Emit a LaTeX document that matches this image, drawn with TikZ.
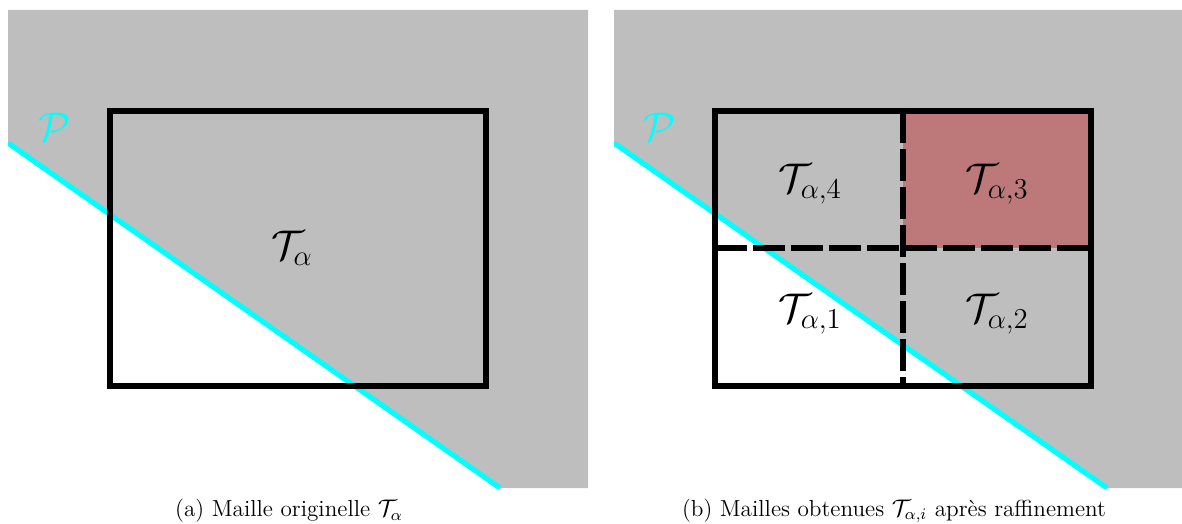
\documentclass[tikz,border=0pt]{standalone}
\usetikzlibrary{positioning}
\definecolor{fond}{RGB}{190,190,190}
\definecolor{rouge}{RGB}{189,121,121}
\definecolor{plancyan}{RGB}{0,255,255}
\tikzset{
  maille/.style={line width=2.8pt},
  sousmaille/.style={line width=2.8pt,dash pattern=on 16pt off 3pt},
  plan/.style={plancyan,line width=2.6pt},
  etiq/.style={font=\huge},
  etiqfine/.style={font=\fontsize{22.5}{27}\selectfont},
  legende/.style={font=\fontsize{11.6}{14}\selectfont},
}
\begin{document}
\begin{tikzpicture}[x=0.5pt,y=-0.5pt]
\useasboundingbox (0,0) rectangle (1182,524);

% (a)
\begin{scope}
\clip (8,10) rectangle (588,488);
\fill[fond] (8,10) -- (588,10) -- (588,488) -- (500,488) -- (8,143) -- cycle;
\coordinate (pa1) at (8,143);
\coordinate (pa2) at (500,488);
\draw[plan] (pa1) -- (pa2);
\end{scope}
\draw[maille] (110,111) rectangle (486,386);
\node[etiq] (ta) at (292,248) {$\mathcal{T}_\alpha$};
\node[etiq,plancyan] (pa) at (55,127) {$\mathcal{P}$};
\node[legende] (capa) at (289,511) {(a) Maille originelle $\mathcal{T}_\alpha$};

% (b)
\begin{scope}
\clip (614,10) rectangle (1182,488);
\fill[fond] (614,10) -- (1182,10) -- (1182,488) -- (1107,488) -- (614,143) -- cycle;
\coordinate (pb1) at (614,143);
\coordinate (pb2) at (1107,488);
\fill[rouge] (903,111) rectangle (1091,248);
\draw[plan] (pb1) -- (pb2);
\end{scope}
\draw[sousmaille] (715,248) -- (1091,248);
\draw[sousmaille] (903,111) -- (903,386);
\draw[maille] (715,111) rectangle (1091,386);
\node[etiqfine] (t4) at (810,184) {$\mathcal{T}_{\alpha,4}$};
\node[etiqfine] (t3) at (997,184) {$\mathcal{T}_{\alpha,3}$};
\node[etiqfine] (t1) at (810,314) {$\mathcal{T}_{\alpha,1}$};
\node[etiqfine] (t2) at (997,314) {$\mathcal{T}_{\alpha,2}$};
\node[etiq,plancyan] (pb) at (660,127) {$\mathcal{P}$};
\node[legende] (capb) at (894,511) {(b) Mailles obtenues $\mathcal{T}_{\alpha,i}$ après raffinement};

\end{tikzpicture}
\end{document}
